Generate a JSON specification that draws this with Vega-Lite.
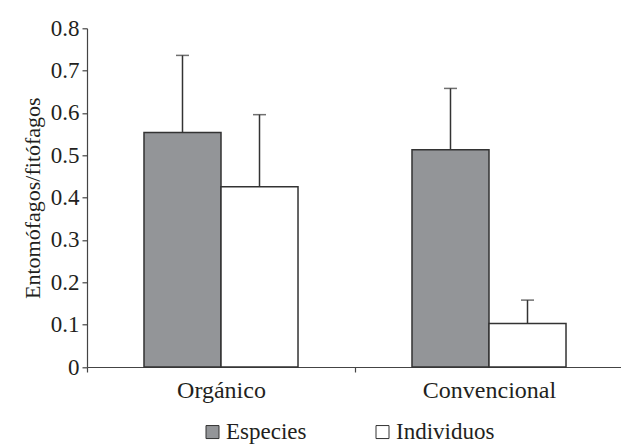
{
  "$schema": "https://vega.github.io/schema/vega-lite/v6.json",
  "width": 536,
  "height": 338.7,
  "autosize": "none",
  "padding": {"left": 87, "top": 28.3, "right": 0, "bottom": 78},
  "background": "white",
  "config": {
    "view": {"stroke": null},
    "font": "Liberation Serif, Times New Roman, serif",
    "axis": {"grid": false, "domainColor": "#444", "tickColor": "#444", "labelColor": "#231f20", "titleColor": "#231f20", "labelFont": "Liberation Serif, Times New Roman, serif", "titleFont": "Liberation Serif, Times New Roman, serif", "labelFontSize": 22, "titleFontSize": 22, "titleFontWeight": "normal", "domainWidth": 1.2, "tickWidth": 1.2, "tickSize": 5, "labelOverlap": false},
    "legend": {"labelFont": "Liberation Serif, Times New Roman, serif", "labelFontSize": 23, "labelColor": "#231f20"}
  },
  "data": {
    "values": [
      {"sistema": "Orgánico", "serie": "Especies", "valor": 0.554, "error": 0.736},
      {"sistema": "Orgánico", "serie": "Individuos", "valor": 0.426, "error": 0.596},
      {"sistema": "Convencional", "serie": "Especies", "valor": 0.513, "error": 0.658},
      {"sistema": "Convencional", "serie": "Individuos", "valor": 0.103, "error": 0.158}
    ]
  },
  "encoding": {
    "x": {
      "field": "sistema",
      "type": "nominal",
      "sort": ["Orgánico", "Convencional"],
      "scale": {"paddingInner": 0, "paddingOuter": 0},
      "axis": {"title": null, "labelAngle": 0, "tickBand": "extent", "labelPadding": 6, "labelFontSize": 24}
    },
    "xOffset": {
      "field": "serie",
      "type": "nominal",
      "sort": ["Especies", "Individuos"],
      "scale": {"paddingInner": 0, "paddingOuter": 0.74}
    }
  },
  "layer": [
    {
      "mark": {"type": "bar", "stroke": "#333", "strokeWidth": 1.5},
      "encoding": {
        "y": {
          "field": "valor",
          "type": "quantitative",
          "scale": {"domain": [0, 0.8], "nice": false},
          "axis": {"title": "Entomófagos/fitófagos", "values": [0, 0.1, 0.2, 0.3, 0.4, 0.5, 0.6, 0.7, 0.8], "format": ".1~f", "labelPadding": 3, "titlePadding": 6, "labelFontSize": 23, "titleFontSize": 22, "labelOverlap": false}
        },
        "color": {
          "field": "serie",
          "type": "nominal",
          "scale": {"domain": ["Especies", "Individuos"], "range": ["#939598", "#ffffff"]},
          "legend": {"title": null, "orient": "none", "direction": "horizontal", "legendX": 114, "legendY": 392, "symbolType": "square", "symbolSize": 169, "symbolStrokeColor": "#333", "symbolStrokeWidth": 1, "labelOffset": 2, "columnPadding": 64, "labelFontSize": 23}
        }
      }
    },
    {
      "mark": {"type": "rule", "color": "#333", "strokeWidth": 1.5},
      "encoding": {
        "y": {"field": "valor", "type": "quantitative"},
        "y2": {"field": "error"}
      }
    },
    {
      "mark": {"type": "tick", "color": "#333", "thickness": 1.5, "size": 13},
      "encoding": {
        "y": {"field": "error", "type": "quantitative"}
      }
    }
  ]
}
